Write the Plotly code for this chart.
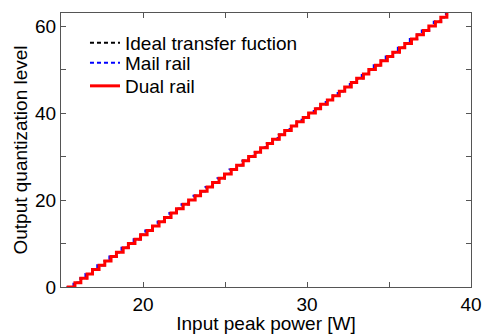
import plotly.graph_objects as go

levels = [0, 1, 2, 3, 4, 5, 6, 7, 8, 9, 10, 11, 12, 13, 14, 15, 16, 17, 18, 19,
          20, 21, 22, 23, 24, 25, 26, 27, 28, 29, 30, 31, 32, 33, 34, 35, 36, 37, 38, 39,
          40, 41, 42, 43, 44, 45, 46, 47, 48, 49, 50, 51, 52, 53, 54, 55, 56, 57, 58, 59,
          60, 61, 62, 63]

start_power = 15.35

ideal_thresholds = [15.83, 16.19, 16.56, 16.93, 17.29, 17.66, 18.02, 18.39, 18.76, 19.12,
                    19.49, 19.86, 20.22, 20.59, 20.95, 21.32, 21.69, 22.05, 22.42, 22.79,
                    23.15, 23.52, 23.88, 24.25, 24.62, 24.98, 25.35, 25.72, 26.08, 26.45,
                    26.82, 27.18, 27.55, 27.91, 28.28, 28.65, 29.01, 29.38, 29.75, 30.11,
                    30.48, 30.84, 31.21, 31.58, 31.94, 32.31, 32.68, 33.04, 33.41, 33.78,
                    34.14, 34.51, 34.87, 35.24, 35.61, 35.97, 36.34, 36.71, 37.07, 37.44,
                    37.80, 38.17, 38.54]

main_thresholds = [15.76, 16.20, 16.49, 16.95, 17.21, 17.68, 17.95, 18.40, 18.69, 19.13,
                   19.43, 19.87, 20.14, 20.60, 20.89, 21.33, 21.61, 22.06, 22.35, 22.80,
                   23.08, 23.53, 23.81, 24.26, 24.54, 24.99, 25.27, 25.73, 26.01, 26.46,
                   26.74, 27.19, 27.48, 27.92, 28.21, 28.66, 28.94, 29.39, 29.67, 30.12,
                   30.41, 30.85, 31.14, 31.59, 31.87, 32.32, 32.61, 33.05, 33.34, 33.79,
                   34.07, 34.52, 34.80, 35.25, 35.54, 35.98, 36.27, 36.72, 37.00, 37.45,
                   37.73, 38.18, 38.47]

dual_thresholds = [15.85, 16.21, 16.59, 16.92, 17.32, 17.67, 18.05, 18.38, 18.79, 19.11,
                   19.51, 19.85, 20.25, 20.58, 20.98, 21.31, 21.71, 22.04, 22.45, 22.78,
                   23.18, 23.51, 23.91, 24.24, 24.64, 24.97, 25.38, 25.71, 26.11, 26.44,
                   26.84, 27.17, 27.58, 27.90, 28.31, 28.64, 29.04, 29.37, 29.77, 30.10,
                   30.51, 30.83, 31.24, 31.57, 31.97, 32.30, 32.70, 33.03, 33.44, 33.77,
                   34.17, 34.50, 34.90, 35.23, 35.64, 35.96, 36.37, 36.70, 37.10, 37.43,
                   37.83, 38.16, 38.53]

x_ticks = [20, 30, 40]
y_ticks = [0, 20, 40, 60]

FONT = "Liberation Sans, Arial, sans-serif"

fig = go.Figure()
fig.add_trace(go.Scatter(
    x=[start_power] + ideal_thresholds, y=levels, mode="lines", line_shape="hv",
    name="Ideal transfer fuction", legend="legend",
    line=dict(color="black", width=2, dash="4px,3px")))
fig.add_trace(go.Scatter(
    x=[start_power] + main_thresholds, y=levels, mode="lines", line_shape="hv",
    name="Mail rail", legend="legend2",
    line=dict(color="blue", width=2, dash="4px,3px")))
fig.add_trace(go.Scatter(
    x=[start_power] + dual_thresholds, y=levels, mode="lines", line_shape="hv",
    name="Dual rail", legend="legend3",
    line=dict(color="red", width=3)))

axis_common = dict(
    showline=True, linecolor="#555555", linewidth=1, mirror="ticks",
    ticks="inside", ticklen=5, tickcolor="#555555", showgrid=False, zeroline=False,
    automargin=False,
    tickfont=dict(family=FONT, size=19, color="black"),
)

legend_common = dict(x=0.0585, xanchor="left", yanchor="middle",
                     bgcolor="rgba(0,0,0,0)", font=dict(family=FONT, size=19),
                     itemwidth=30)

fig.update_layout(
    width=483, height=334,
    margin=dict(l=61, r=12, t=13, b=47),
    paper_bgcolor="white", plot_bgcolor="white",
    font=dict(family=FONT, size=19, color="black"),
    showlegend=True,
    legend=dict(y=0.8905, **legend_common),
    legend2=dict(y=0.8175, **legend_common),
    legend3=dict(y=0.7336, **legend_common),
    xaxis=dict(range=[15, 40], tickvals=x_ticks,
               minor=dict(dtick=5, ticks="inside", ticklen=5, tickcolor="#555555"),
               title=dict(text="Input peak power [W]", standoff=2,
                          font=dict(family=FONT, size=19)),
               **axis_common),
    yaxis=dict(range=[0, 63], tickvals=y_ticks,
               minor=dict(dtick=10, ticks="inside", ticklen=5, tickcolor="#555555"),
               title=dict(text="Output quantization level", standoff=2,
                          font=dict(family=FONT, size=19)),
               **axis_common),
)

fig.write_html("out.html")
